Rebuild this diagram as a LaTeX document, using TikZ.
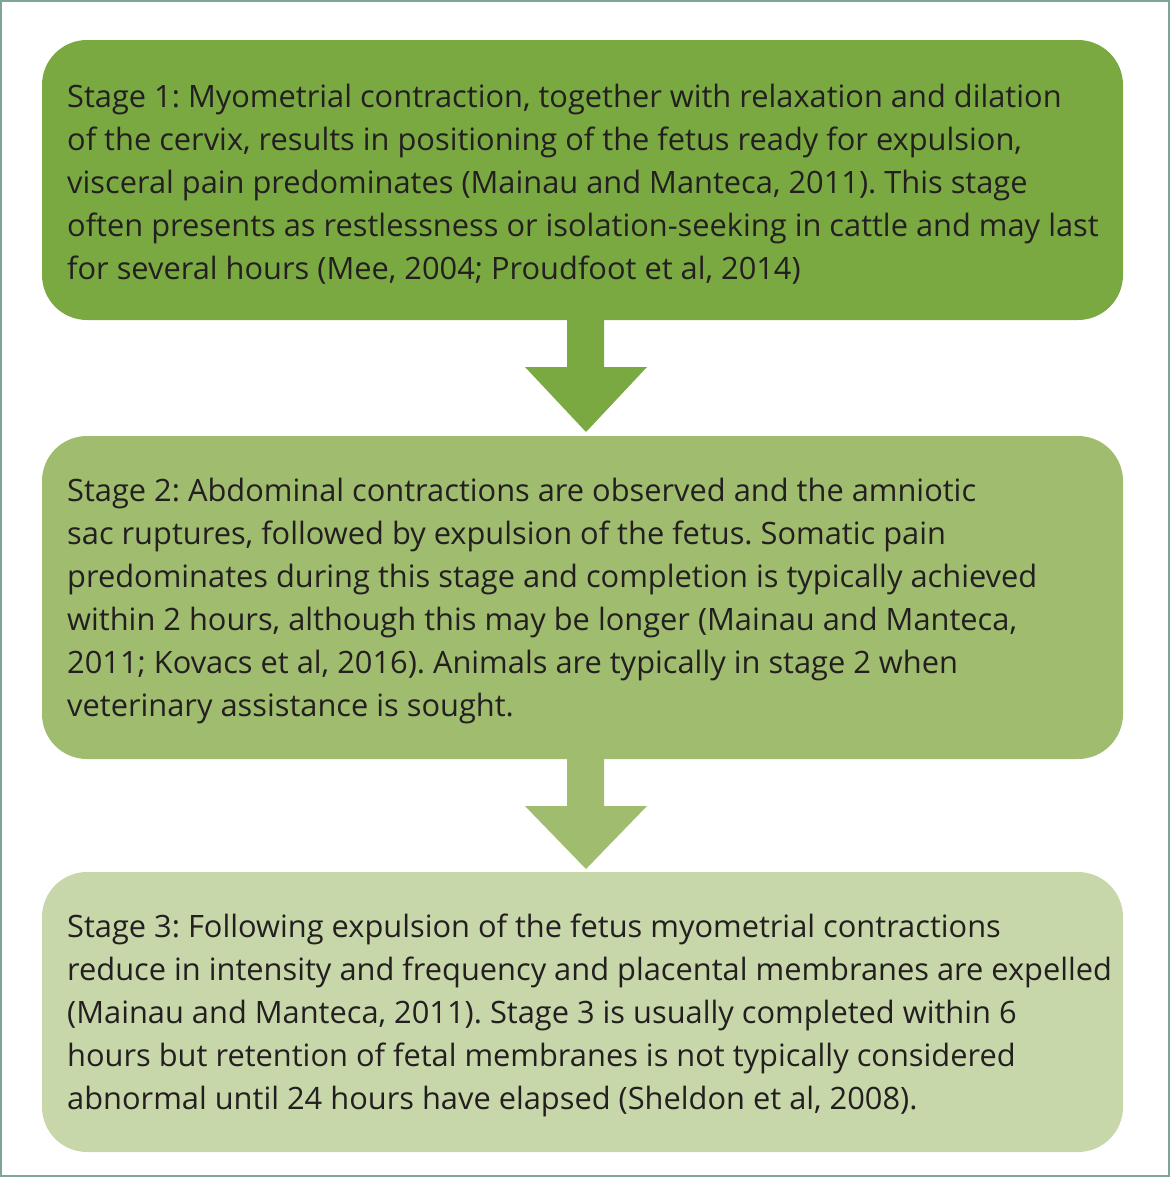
\documentclass[tikz,border=0pt]{standalone}
\usepackage{fontspec}
\setmainfont{Open Sans}
\definecolor{gA}{HTML}{7AA942}
\definecolor{gB}{HTML}{A0BC6E}
\definecolor{gC}{HTML}{C8D7A9}
\definecolor{frameC}{HTML}{7FA59A}
\definecolor{txt}{HTML}{231F20}
\begin{document}
\frenchspacing
\begin{tikzpicture}[x=1pt,y=-1pt,
  stagebox/.style={rounded corners=45pt},
  stagetext/.style={anchor=west,align=left,inner sep=0pt,text=txt,font=\fontsize{30.8}{43}\selectfont}]
\useasboundingbox (0,0) rectangle (1171,1178);
\draw[frameC,line width=1.5pt] (1,1) rectangle (1169,1176);
% boxes
\fill[gA,stagebox] (42,40) rectangle (1123,320);
\fill[gB,stagebox] (42,436) rectangle (1123,759);
\fill[gC,stagebox] (42,872) rectangle (1123,1152);
% arrows
\fill[gA] (567,319) -- (604,319) -- (604,367) -- (647,367) -- (586,432) -- (525,367) -- (567,367) -- cycle;
\fill[gB] (567,758) -- (604,758) -- (604,806) -- (647,806) -- (586,869) -- (525,806) -- (567,806) -- cycle;
% texts
\node[stagetext] (t1) at (67,184) {Stage 1: Myometrial contraction, together with relaxation and dilation\\of the cervix, results in positioning of the fetus ready for expulsion,\\visceral pain predominates (Mainau and Manteca, 2011). This stage\\often presents as restlessness or isolation-seeking in cattle and may last\\for several hours (Mee, 2004; Proudfoot et al, 2014)};
\node[stagetext] (t2) at (67,601) {Stage 2: Abdominal contractions are observed and the amniotic\\sac ruptures, followed by expulsion of the fetus. Somatic pain\\predominates during this stage and completion is typically achieved\\within 2 hours, although this may be longer (Mainau and Manteca,\\2011; Kovacs et al, 2016). Animals are typically in stage 2 when\\veterinary assistance is sought.};
\node[stagetext] (t3) at (67,1015) {Stage 3: Following expulsion of the fetus myometrial contractions\\reduce in intensity and frequency and placental membranes are expelled\\(Mainau and Manteca, 2011). Stage 3 is usually completed within 6\\hours but retention of fetal membranes is not typically considered\\abnormal until 24 hours have elapsed (Sheldon et al, 2008).};
\end{tikzpicture}
\end{document}
